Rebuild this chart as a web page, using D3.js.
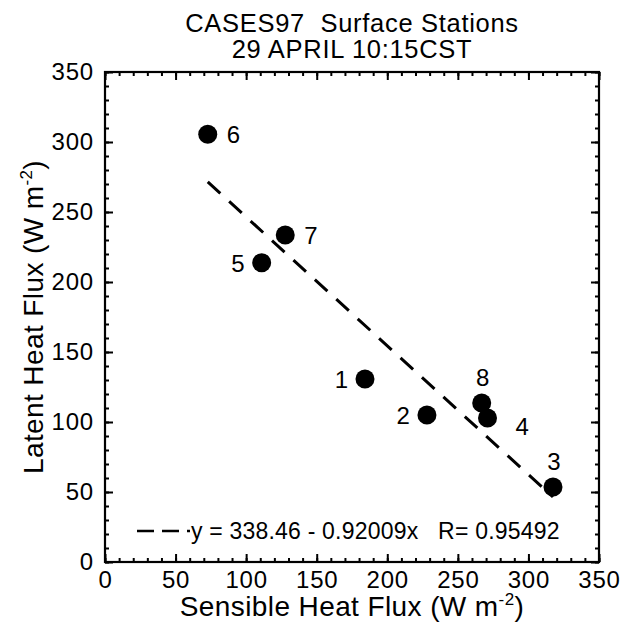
<!DOCTYPE html>
<html>
<head>
<meta charset="utf-8">
<script src="https://cdn.jsdelivr.net/npm/d3@7"></script>
<style>
  body { margin: 0; background: #fff; }
  svg { font-family: "Liberation Sans", Arial, Helvetica, sans-serif; }
</style>
</head>
<body>
<div id="chart"></div>
<script>
// station data
const stations = ['1', '2', '3', '4', '5', '6', '7', '8'];
const sensible = [184.2, 228.1, 317.4, 271.0, 111.0, 72.8, 127.7, 266.9];
const latent = [130.7, 105.0, 53.6, 102.9, 213.8, 305.5, 233.6, 113.6];
// where each label sits around its dot
const labelSide = ['left', 'left', 'above', 'belowRight', 'left', 'right', 'right', 'above'];

// fit reported on the chart
const fitIntercept = 338.46;
const fitSlope = -0.92009;
const fitR = 0.95492;

const xTicks = [0, 50, 100, 150, 200, 250, 300, 350];
const yTicks = [0, 50, 100, 150, 200, 250, 300, 350];
const minorStep = 10;

const width = 622, height = 626;
const margin = { top: 72, right: 23, bottom: 64, left: 105 };
const innerW = width - margin.left - margin.right;
const innerH = height - margin.top - margin.bottom;

const svg = d3.select('#chart').append('svg')
  .attr('width', width)
  .attr('height', height);

const g = svg.append('g')
  .attr('transform', `translate(${margin.left},${margin.top})`);

const x = d3.scaleLinear().domain([0, 350]).range([0, innerW]);
const y = d3.scaleLinear().domain([0, 350]).range([innerH, 0]);

const minorVals = d3.range(0, 351, minorStep);

// ticks on all four sides, pointing inward
function ticks(axisFn, scale, vals, size, pad) {
  return axisFn(scale).tickValues(vals).tickSizeInner(-size).tickSizeOuter(0)
    .tickPadding(pad || 0)
    .tickFormat(pad ? d3.format('d') : '');
}

const axes = [
  { fn: d3.axisBottom, scale: x, t: `translate(0,${innerH})`, pad: 9, major: xTicks },
  { fn: d3.axisTop, scale: x, t: 'translate(0,0)', pad: 0, major: xTicks },
  { fn: d3.axisLeft, scale: y, t: 'translate(0,0)', pad: 11, major: yTicks },
  { fn: d3.axisRight, scale: y, t: `translate(${innerW},0)`, pad: 0, major: yTicks }
];

axes.forEach(a => {
  const minor = g.append('g').attr('transform', a.t)
    .call(ticks(a.fn, a.scale, minorVals, 4, 0));
  minor.select('.domain').remove();
  const major = g.append('g').attr('transform', a.t)
    .call(ticks(a.fn, a.scale, a.major, 8, a.pad));
  major.select('.domain').remove();
  major.selectAll('text')
    .style('font-size', '24px')
    .style('letter-spacing', '0.8px')
    .attr('fill', '#000');
  g.selectAll('.tick line').attr('stroke', '#000').attr('stroke-width', 2);
});

// frame
g.append('rect')
  .attr('x', 0).attr('y', 0)
  .attr('width', innerW).attr('height', innerH)
  .attr('fill', 'none')
  .attr('stroke', '#000')
  .attr('stroke-width', 2.2);

// regression line over the data range
const xExt = d3.extent(sensible);
const line = d3.line().x(d => x(d)).y(d => y(fitIntercept + fitSlope * d));
g.append('path')
  .attr('d', line(xExt))
  .attr('fill', 'none')
  .attr('stroke', '#000')
  .attr('stroke-width', 3)
  .attr('stroke-dasharray', '17,12');

// points
const pts = stations.map((s, i) => ({ s, x: sensible[i], y: latent[i], side: labelSide[i] }));

g.selectAll('circle.pt')
  .data(pts)
  .enter().append('circle')
  .attr('class', 'pt')
  .attr('cx', d => x(d.x))
  .attr('cy', d => y(d.y))
  .attr('r', 9.5)
  .attr('fill', '#000');

const place = {
  right: { dx: 19, dy: 9, anchor: 'start' },
  left: { dx: -17, dy: 9, anchor: 'end' },
  above: { dx: 1, dy: -17, anchor: 'middle' },
  belowRight: { dx: 28, dy: 17, anchor: 'start' }
};

g.selectAll('text.lbl')
  .data(pts)
  .enter().append('text')
  .attr('class', 'lbl')
  .attr('x', d => x(d.x) + place[d.side].dx)
  .attr('y', d => y(d.y) + place[d.side].dy)
  .attr('text-anchor', d => place[d.side].anchor)
  .style('font-size', '24px')
  .text(d => d.s);

// legend
const legY = 531;
g.append('line')
  .attr('x1', 137 - margin.left).attr('x2', 190 - margin.left)
  .attr('y1', legY - margin.top).attr('y2', legY - margin.top)
  .attr('stroke', '#000')
  .attr('stroke-width', 2.5)
  .attr('stroke-dasharray', '17,8');
g.append('text')
  .attr('x', 191 - margin.left)
  .attr('y', legY - margin.top + 8)
  .style('font-size', '23px')
  .style('letter-spacing', '0.2px')
  .attr('xml:space', 'preserve')
  .text(`y = ${fitIntercept} - ${Math.abs(fitSlope)}x   R= ${fitR}`);

// titles
const cx = margin.left + innerW / 2;
svg.append('text')
  .attr('x', cx).attr('y', 32)
  .attr('text-anchor', 'middle')
  .attr('xml:space', 'preserve')
  .style('font-size', '25.5px')
  .style('letter-spacing', '0.7px')
  .text('CASES97  Surface Stations');
svg.append('text')
  .attr('x', cx).attr('y', 58)
  .attr('text-anchor', 'middle')
  .style('font-size', '25.5px')
  .style('letter-spacing', '0.7px')
  .text('29 APRIL 10:15CST');

const xt = svg.append('text')
  .attr('x', cx).attr('y', 616)
  .attr('text-anchor', 'middle')
  .style('font-size', '28px')
  .style('letter-spacing', '0.4px');
xt.append('tspan').text('Sensible Heat Flux (W m');
xt.append('tspan').attr('dy', -11).style('font-size', '17px').text('-2');
xt.append('tspan').attr('dy', 11).text(')');

const yt = svg.append('text')
  .attr('transform', `translate(43,${margin.top + innerH / 2}) rotate(-90)`)
  .attr('text-anchor', 'middle')
  .style('font-size', '28px')
  .style('letter-spacing', '0.4px');
yt.append('tspan').text('Latent Heat Flux (W m');
yt.append('tspan').attr('dy', -11).style('font-size', '17px').text('-2');
yt.append('tspan').attr('dy', 11).text(')');
</script>
</body>
</html>
